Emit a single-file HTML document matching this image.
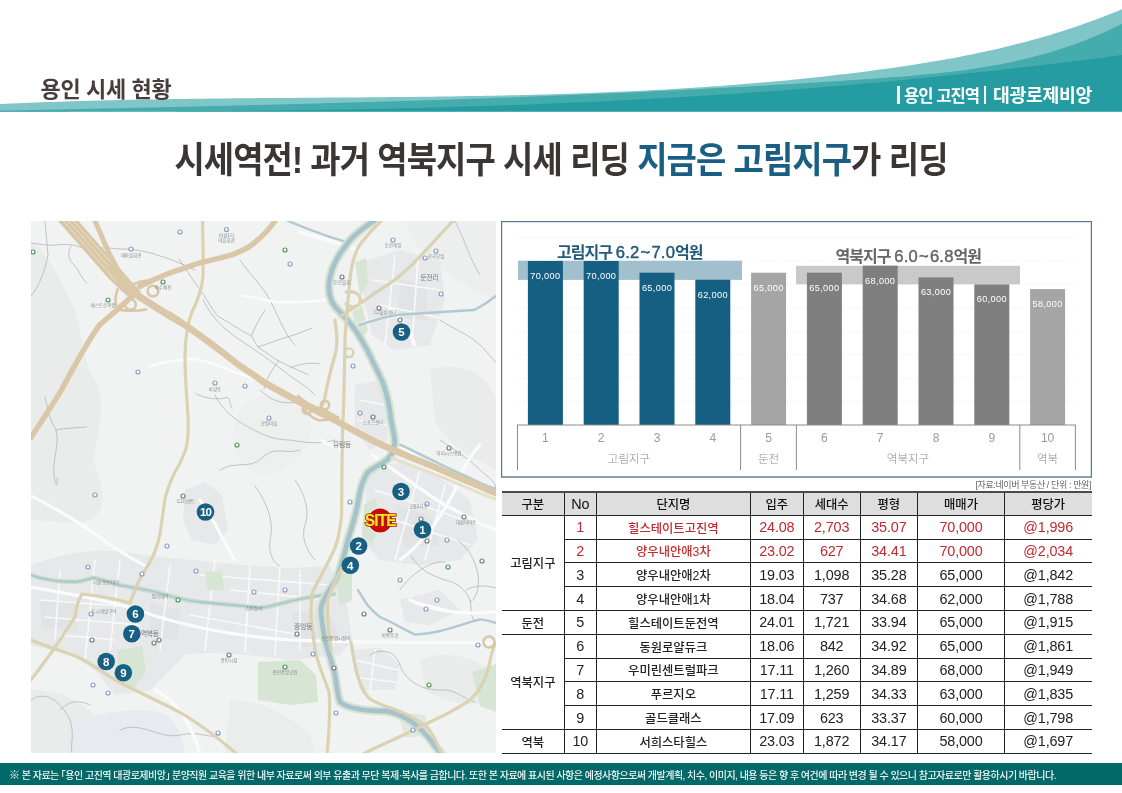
<!DOCTYPE html>
<html lang="ko">
<head>
<meta charset="utf-8">
<title>용인 시세 현황</title>
<style>
*{margin:0;padding:0;box-sizing:border-box}
html,body{width:1122px;height:793px;overflow:hidden;background:#fff}
body{position:relative;font-family:"Liberation Sans","Noto Sans CJK KR",sans-serif;color:#222}
.abs{position:absolute}
#wave{position:absolute;left:0;top:0}
#h-left{position:absolute;left:40.5px;top:75px;font-size:22px;font-weight:700;color:#483d3d;letter-spacing:-0.35px;line-height:30px;white-space:nowrap}
.hb{position:absolute;top:86px;width:2.6px;height:17.5px;background:#fff}
.ht{position:absolute;top:84px;font-size:17px;color:#fff;line-height:24px;white-space:nowrap;font-weight:700;letter-spacing:-0.5px}
#title{position:absolute;left:0;width:1122px;top:133.5px;text-align:center;font-size:36.5px;font-weight:700;color:#3b3535;letter-spacing:-1px;line-height:54px;white-space:nowrap;transform:scaleX(0.902);transform-origin:561px 0}
#title .b{color:#1a5e84}
#map{position:absolute;left:31px;top:221px;width:465px;height:532px;overflow:hidden;background:#f1f2f2}
#chart{position:absolute;left:501px;top:221px}
#chart text{font-family:"Liberation Sans","Noto Sans CJK KR",sans-serif}
#chart .bv{font-size:9.2px;letter-spacing:0.35px;fill:#fff;text-anchor:middle;font-family:"Liberation Sans","Noto Sans CJK KR",sans-serif}
#chart .ax{font-size:11.5px;fill:#8c8c8c;text-anchor:middle;font-weight:300}
#chart .an{font-size:12px;fill:#999;text-anchor:middle;font-family:"Liberation Sans","Noto Sans CJK KR",sans-serif}
#chart .t1{font-size:16px;fill:#1f5a7a;font-weight:700;letter-spacing:-0.5px}
#chart .t2{font-size:16px;fill:#666;font-weight:700;letter-spacing:-0.5px}
#chart .tn{font-family:"Liberation Sans","Noto Sans CJK KR",sans-serif;font-size:16.6px;font-weight:400;letter-spacing:0.2px;stroke:currentColor;stroke-width:0.45}
#chart .t1 .tn{stroke:#1f5a7a}
#chart .t2 .tn{stroke:#666}
#src{position:absolute;right:31px;top:478px;font-size:9px;color:#666;line-height:14px;white-space:nowrap;letter-spacing:-0.4px}
#tbl{position:absolute;left:502px;top:490.5px;width:589.5px;border-collapse:collapse;table-layout:fixed;font-family:"Liberation Sans","Noto Sans CJK KR",sans-serif;font-size:14.4px;line-height:16px}
#tbl .k{font-family:"Liberation Sans","Noto Sans CJK KR",sans-serif;font-size:12.3px;letter-spacing:0;font-weight:500;position:relative;top:1px}
#tbl td,#tbl th{height:23.8px;text-align:center;vertical-align:middle;border:1px solid #222;padding:0;white-space:nowrap;font-weight:400;letter-spacing:-0.15px}
#tbl th{background:#dedede;color:#111}
#tbl tr:first-child th{border-top:2px solid #4a4a4a}
#tbl th:first-child,#tbl td.g{border-left:none}
#tbl th:last-child,#tbl td:last-child{border-right:none}
#tbl tr.r td{color:#c12a2e}
#tbl tr.r td.g{color:#222}
#foot{position:absolute;left:0;top:763px;width:1122px;height:21.5px;background:#036868;color:#f2f7f7;font-size:10px;line-height:24.5px;padding-left:9px;white-space:nowrap;letter-spacing:-0.51px;font-weight:500}
#foot .rf{font-size:11px}
</style>
</head>
<body>
<svg id="wave" width="1122" height="112" viewBox="0 0 1122 112">
<path d="M0,111.5 L0,104.0 L6,103.7 L12,103.5 L18,103.2 L24,103.0 L30,102.7 L36,102.5 L42,102.3 L48,102.1 L54,101.9 L60,101.7 L66,101.5 L72,101.3 L78,101.1 L84,100.9 L90,100.8 L96,100.6 L102,100.5 L108,100.3 L114,100.2 L120,100.0 L126,99.9 L132,99.8 L138,99.7 L144,99.6 L150,99.5 L156,99.4 L162,99.3 L168,99.2 L174,99.1 L180,99.0 L186,98.9 L192,98.8 L198,98.7 L204,98.7 L210,98.6 L216,98.5 L222,98.5 L228,98.4 L234,98.3 L240,98.3 L246,98.2 L252,98.2 L258,98.1 L264,98.1 L270,98.0 L276,98.0 L282,97.9 L288,97.9 L294,97.9 L300,97.8 L306,97.8 L312,97.7 L318,97.7 L324,97.6 L330,97.6 L336,97.6 L342,97.5 L348,97.5 L354,97.4 L360,97.4 L366,97.3 L372,97.3 L378,97.2 L384,97.2 L390,97.1 L396,97.1 L402,97.0 L408,96.9 L414,96.9 L420,96.8 L426,96.7 L432,96.7 L438,96.6 L444,96.5 L450,96.4 L456,96.3 L462,96.2 L468,96.1 L474,96.0 L480,95.9 L486,95.8 L492,95.7 L498,95.6 L504,95.4 L510,95.3 L516,95.2 L522,95.0 L528,94.9 L534,94.7 L540,94.6 L546,94.4 L552,94.2 L558,94.0 L564,93.8 L570,93.7 L576,93.4 L582,93.2 L588,93.0 L594,92.8 L600,92.6 L606,92.3 L612,92.1 L618,91.8 L624,91.5 L630,91.3 L636,91.0 L642,90.7 L648,90.4 L654,90.1 L660,89.7 L666,89.4 L672,89.1 L678,88.7 L684,88.3 L690,88.0 L696,87.6 L702,87.2 L708,86.8 L714,86.3 L720,85.9 L726,85.5 L732,85.0 L738,84.6 L744,84.1 L750,83.6 L756,83.1 L762,82.6 L768,82.0 L774,81.5 L780,80.9 L786,80.4 L792,79.8 L798,79.2 L804,78.6 L810,78.0 L816,77.3 L822,76.7 L828,76.0 L834,75.3 L840,74.6 L846,73.9 L852,73.2 L858,72.5 L864,71.7 L870,70.9 L876,70.1 L882,69.3 L888,68.5 L894,67.7 L900,66.8 L906,65.9 L912,65.0 L918,64.1 L924,63.1 L930,62.1 L936,61.1 L942,60.1 L948,59.0 L954,57.9 L960,56.7 L966,55.6 L972,54.4 L978,53.1 L984,51.8 L990,50.5 L996,49.2 L1002,47.8 L1008,46.3 L1014,44.8 L1020,43.3 L1026,41.7 L1032,40.1 L1038,38.4 L1044,36.7 L1050,34.9 L1056,33.1 L1062,31.2 L1068,29.3 L1074,27.3 L1080,25.3 L1086,23.1 L1092,21.0 L1098,18.8 L1104,16.5 L1110,14.1 L1116,11.7 L1122,9.2 L1122,111.5 Z" fill="#80c6c8"/>
<path d="M0,111.5 L0,110.7 L6,110.6 L12,110.5 L18,110.3 L24,110.2 L30,110.1 L36,110.0 L42,109.8 L48,109.7 L54,109.6 L60,109.5 L66,109.3 L72,109.2 L78,109.1 L84,108.9 L90,108.8 L96,108.7 L102,108.6 L108,108.4 L114,108.3 L120,108.2 L126,108.0 L132,107.9 L138,107.8 L144,107.6 L150,107.5 L156,107.4 L162,107.2 L168,107.1 L174,107.0 L180,106.8 L186,106.7 L192,106.6 L198,106.4 L204,106.3 L210,106.1 L216,106.0 L222,105.9 L228,105.7 L234,105.6 L240,105.4 L246,105.3 L252,105.1 L258,105.0 L264,104.8 L270,104.7 L276,104.5 L282,104.4 L288,104.2 L294,104.1 L300,103.9 L306,103.8 L312,103.6 L318,103.4 L324,103.3 L330,103.1 L336,102.9 L342,102.8 L348,102.6 L354,102.4 L360,102.3 L366,102.1 L372,101.9 L378,101.7 L384,101.6 L390,101.4 L396,101.2 L402,101.0 L408,100.8 L414,100.7 L420,100.5 L426,100.3 L432,100.1 L438,99.9 L444,99.7 L450,99.5 L456,99.3 L462,99.1 L468,98.9 L474,98.7 L480,98.5 L486,98.3 L492,98.0 L498,97.8 L504,97.6 L510,97.4 L516,97.2 L522,96.9 L528,96.7 L534,96.5 L540,96.2 L546,96.0 L552,95.8 L558,95.5 L564,95.3 L570,95.0 L576,94.8 L582,94.5 L588,94.3 L594,94.0 L600,93.8 L606,93.5 L612,93.3 L618,93.0 L624,92.7 L630,92.4 L636,92.2 L642,91.9 L648,91.6 L654,91.3 L660,91.0 L666,90.7 L672,90.5 L678,90.2 L684,89.9 L690,89.6 L696,89.2 L702,88.9 L708,88.6 L714,88.3 L720,88.0 L726,87.7 L732,87.3 L738,87.0 L744,86.7 L750,86.3 L756,86.0 L762,85.7 L768,85.3 L774,85.0 L780,84.6 L786,84.3 L792,83.9 L798,83.5 L804,83.2 L810,82.8 L816,82.4 L822,82.0 L828,81.7 L834,81.3 L840,80.9 L846,80.5 L852,80.1 L858,79.7 L864,79.3 L870,78.9 L876,78.4 L882,78.0 L888,77.6 L894,77.1 L900,76.7 L906,76.2 L912,75.7 L918,75.2 L924,74.6 L930,74.1 L936,73.5 L942,72.8 L948,72.1 L954,71.4 L960,70.7 L966,69.9 L972,69.0 L978,68.1 L984,67.1 L990,66.1 L996,65.0 L1002,63.9 L1008,62.7 L1014,61.4 L1020,60.1 L1026,58.7 L1032,57.2 L1038,55.6 L1044,54.0 L1050,52.2 L1056,50.4 L1062,48.5 L1068,46.5 L1074,44.4 L1080,42.2 L1086,39.9 L1092,37.5 L1098,35.0 L1104,32.4 L1110,29.6 L1116,26.8 L1122,23.8 L1122,111.5 Z" fill="#45acad"/>
<path d="M0,111.5 L0,110.8 L6,110.9 L12,110.9 L18,110.9 L24,111.0 L30,111.0 L36,111.0 L42,111.0 L48,111.1 L54,111.1 L60,111.1 L66,111.1 L72,111.2 L78,111.2 L84,111.2 L90,111.2 L96,111.2 L102,111.2 L108,111.2 L114,111.2 L120,111.2 L126,111.2 L132,111.2 L138,111.2 L144,111.2 L150,111.2 L156,111.2 L162,111.2 L168,111.2 L174,111.2 L180,111.1 L186,111.1 L192,111.1 L198,111.1 L204,111.0 L210,111.0 L216,110.9 L222,110.9 L228,110.9 L234,110.8 L240,110.8 L246,110.7 L252,110.7 L258,110.6 L264,110.6 L270,110.5 L276,110.4 L282,110.4 L288,110.3 L294,110.2 L300,110.1 L306,110.0 L312,110.0 L318,109.9 L324,109.8 L330,109.7 L336,109.6 L342,109.5 L348,109.4 L354,109.3 L360,109.2 L366,109.0 L372,108.9 L378,108.8 L384,108.7 L390,108.5 L396,108.4 L402,108.3 L408,108.1 L414,108.0 L420,107.8 L426,107.7 L432,107.5 L438,107.4 L444,107.2 L450,107.0 L456,106.8 L462,106.7 L468,106.5 L474,106.3 L480,106.1 L486,105.9 L492,105.7 L498,105.5 L504,105.3 L510,105.1 L516,104.9 L522,104.7 L528,104.4 L534,104.2 L540,104.0 L546,103.7 L552,103.5 L558,103.2 L564,103.0 L570,102.7 L576,102.5 L582,102.2 L588,101.9 L594,101.7 L600,101.4 L606,101.1 L612,100.8 L618,100.5 L624,100.2 L630,99.9 L636,99.6 L642,99.3 L648,98.9 L654,98.6 L660,98.3 L666,97.9 L672,97.6 L678,97.2 L684,96.9 L690,96.5 L696,96.2 L702,95.8 L708,95.4 L714,95.0 L720,94.7 L726,94.3 L732,93.9 L738,93.5 L744,93.0 L750,92.6 L756,92.2 L762,91.8 L768,91.4 L774,90.9 L780,90.5 L786,90.0 L792,89.6 L798,89.1 L804,88.6 L810,88.2 L816,87.7 L822,87.2 L828,86.7 L834,86.2 L840,85.7 L846,85.2 L852,84.7 L858,84.1 L864,83.6 L870,83.1 L876,82.5 L882,82.0 L888,81.4 L894,80.9 L900,80.3 L906,79.7 L912,79.1 L918,78.5 L924,77.9 L930,77.4 L936,76.7 L942,76.1 L948,75.5 L954,74.9 L960,74.3 L966,73.6 L972,73.0 L978,72.3 L984,71.7 L990,71.0 L996,70.4 L1002,69.7 L1008,69.0 L1014,68.3 L1020,67.6 L1026,67.0 L1032,66.3 L1038,65.5 L1044,64.8 L1050,64.1 L1056,63.4 L1062,62.7 L1068,61.9 L1074,61.2 L1080,60.4 L1086,59.7 L1092,58.9 L1098,58.2 L1104,57.4 L1110,56.6 L1116,55.8 L1122,55.1 L1122,111.5 Z" fill="#249ca1"/>
</svg>
<div id="h-left">용인 시세 현황</div>
<div class="hb" style="left:897px"></div><div class="ht" id="ht1" style="left:904px;font-size:16.6px;letter-spacing:-1px;top:84.5px">용인 고진역</div><div class="hb" style="left:983.6px;width:2.8px"></div><div class="ht" id="ht2" style="left:993px;font-size:18.3px;top:83.5px;letter-spacing:-0.3px">대광로제비앙</div>
<div id="title">시세역전! 과거 역북지구 시세 리딩 <span class="b">지금은 고림지구</span>가 리딩</div>

<div id="map">
<svg width="465" height="532" viewBox="31 221 465 532" style="display:block">
<defs>
<clipPath id="mc"><rect x="31" y="221" width="465" height="532"/></clipPath>
</defs>
<g clip-path="url(#mc)" fill="none" stroke-linecap="round" stroke-linejoin="round">
<rect x="31" y="221" width="465" height="532" fill="#f1f2f2" stroke="none"/>
<!-- subtle forest shading -->
<g fill="#e9eceb" stroke="none">
<path d="M31,240 C45,250 55,270 70,300 C85,330 80,360 95,380 C105,400 100,430 95,450 C90,470 110,490 100,510 C90,530 60,520 31,520 Z"/>
<path d="M31,690 C60,690 80,700 100,720 C120,740 150,745 170,753 L31,753 Z"/>
<path d="M70,725 C90,712 130,708 160,712 C175,716 182,735 185,753 L65,753 Z" fill="#e8eaf0"/>
<path d="M230,700 C260,700 290,715 310,735 L315,753 L225,753 Z" fill="#ebedec"/>
<path d="M430,370 C460,360 490,375 496,400 L496,470 C480,460 450,450 435,420 Z"/>
<path d="M405,221 L496,221 L496,300 C470,290 440,270 420,250 Z" fill="#ecefee"/>
<path d="M250,400 C270,390 300,395 310,420 C315,440 300,460 280,470 C260,480 240,470 235,450 C230,430 235,410 250,400 Z" fill="#eef0ef"/>
<path d="M420,660 C440,650 470,655 490,670 L496,700 C470,710 440,700 425,690 Z"/>
</g>
<!-- urban blocks -->
<g fill="#e6e8e9" stroke="none">
<path d="M31,565 C60,555 90,548 120,552 L170,558 C200,560 240,566 290,568 L330,566 L345,590 L352,640 L340,655 L290,660 C250,655 215,650 185,655 L150,690 L115,695 L95,670 L70,655 L31,645 Z"/>
<path d="M362,262 L400,250 L440,262 L445,300 L430,345 L395,350 L372,335 L364,300 Z"/>
<path d="M368,470 L400,462 L440,478 L470,500 L478,540 L460,560 L420,565 L380,560 L362,540 Z"/>
<path d="M185,490 L205,482 L222,495 L228,530 L215,545 L192,540 L183,520 Z"/>
<path d="M355,385 L382,380 L388,440 L370,450 L355,430 Z"/>
<path d="M350,650 L380,648 L400,665 L395,690 L360,690 Z"/>
<path d="M400,600 L440,590 L460,610 L430,625 L405,622 Z"/>
</g>
<g fill="#e1e3e4" stroke="none">
<path d="M290,612 L330,612 L340,640 L300,648 Z"/>
<path d="M40,600 L75,602 L78,632 L42,628 Z"/>
<path d="M150,604 L180,610 L178,640 L150,636 Z"/>
<path d="M395,505 L430,515 L440,545 L405,548 Z"/>
<path d="M400,280 L425,285 L428,320 L398,318 Z"/>
</g>
<!-- white street grid -->
<g stroke="#f8f9f9" stroke-width="1.6">
<path d="M40,600 L120,606 M45,617 L140,625 M60,635 L115,640 M200,575 L330,585 M190,615 L300,635 M215,560 L205,650 M250,565 L245,652 M280,566 L275,655 M95,560 L85,660 M60,570 L55,640 M120,560 L110,650 M170,565 L160,650 M230,590 L330,600 M300,570 L300,650"/>
<path d="M372,280 L440,290 M380,305 L440,318 M395,255 L385,345 M418,258 L412,345 M375,490 L465,520 M380,515 L470,545 M420,470 L395,560 M445,485 L425,560 M360,400 L385,405 M358,420 L386,425"/>
<path d="M355,660 L398,670 M360,678 L395,682 M375,650 L370,690 M410,600 L455,612"/>
</g>
<!-- green areas -->
<g fill="#d7e5d4" stroke="none">
<path d="M258,662 L300,660 L316,675 L318,702 L290,705 L258,700 Z"/>
<path d="M364,505 L376,498 L380,525 L372,545 L362,535 Z"/>
<path d="M118,650 L142,646 L146,672 L132,690 L116,680 Z"/>
<path d="M472,672 L496,664 L496,712 L480,706 Z"/>
<path d="M335,575 L352,572 L352,600 L340,606 Z"/>
<path d="M205,572 L222,571 L224,590 L207,590 Z"/>
<path d="M352,312 L362,306 L368,330 L360,340 Z"/>
<path d="M355,262 L366,258 L368,284 L360,296 Z"/>
<path d="M398,712 L425,715 L430,735 L405,738 Z" fill="#dfe9e0"/>
</g>
<!-- trails / boundaries -->
<g stroke="#a7afb1" stroke-width="0.7">
<path d="M31,296 C40,285 45,270 48,255 L45,221"/>
<path d="M31,243 C40,244 48,246 56,245 C65,244 72,244 80,247 C88,250 92,250 100,248 C110,247 120,250 128,249 C138,250 150,252 160,256 C175,260 185,266 195,270"/>
<path d="M71,246 C66,255 70,262 75,266 C80,272 82,280 87,283"/>
<path d="M203,300 C212,318 225,330 240,340 C255,350 270,360 285,372 C295,380 305,385 315,395"/>
<path d="M240,260 C250,275 262,285 270,300 C280,320 285,335 295,345"/>
<path d="M45,397 C48,410 50,420 56,430 C60,445 52,460 54,475 C55,485 58,490 57,478"/>
<path d="M56,430 C65,428 75,428 86,427"/>
<path d="M196,394 C205,398 215,400 225,398 C232,396 228,404 232,408"/>
<path d="M215,395 C222,410 235,420 250,428 C265,436 275,440 290,440 C300,442 320,445 335,440"/>
<path d="M220,470 C235,460 250,470 262,458 C275,445 285,455 300,450"/>
<path d="M260,390 C270,400 282,405 298,402"/>
<path d="M440,440 C455,450 470,460 480,470 C488,478 496,480 496,490"/>
<path d="M411,556 C420,570 430,575 445,580 C455,582 465,588 470,600 C472,610 470,615 474,620"/>
<path d="M458,540 C470,550 475,560 478,575 C480,590 475,600 470,602"/>
<path d="M466,590 C475,585 485,585 496,588"/>
<path d="M370,655 C380,648 395,650 400,665 C405,680 420,690 440,690 C455,688 465,700 475,702"/>
<path d="M31,700 C45,690 60,700 70,720 C75,735 70,745 72,753"/>
<path d="M60,710 C70,700 80,700 90,705"/>
<path d="M120,730 C140,720 160,740 180,735 C200,730 210,740 220,735"/>
<path d="M255,486 C265,500 275,520 270,540 C268,555 275,565 280,566"/>
<path d="M295,480 C305,495 310,510 305,525 C300,540 310,555 315,560"/>
<path d="M455,221 C465,240 470,260 480,275"/>
<path d="M440,320 C455,330 470,335 480,345 C488,352 492,360 496,362"/>
<path d="M400,590 C410,575 430,560 445,562"/>
</g>
<!-- white roads -->
<g stroke="#fbfbfb" stroke-width="3.2">
<path d="M31,587 C80,596 120,602 152,615 C200,630 260,640 321,641 C380,643 440,642 496,643"/>
<path d="M31,496 C60,510 90,530 110,545 C125,555 135,560 146,566"/>
<path d="M300,232 C320,238 345,245 358,250"/>
<path d="M358,325 C370,320 380,318 395,316"/>
<path d="M398,443 C420,462 440,475 460,484 C475,490 488,494 496,496"/>
<path d="M372,455 C395,470 420,490 445,505 C465,515 480,525 496,530"/>
<path d="M400,560 C420,545 440,520 455,490 C462,470 470,455 480,445"/>
<path d="M410,600 C430,610 460,615 496,612"/>
<path d="M200,500 C215,520 225,545 235,560"/>
<path d="M155,690 C175,700 190,720 200,753"/>
<path d="M320,440 C330,445 338,448 342,450"/>
<path d="M390,308 C400,318 410,330 415,345"/>
</g>
<g stroke="#a7afb1" stroke-width="0.7">
<path d="M179,259 C188,272 196,285 204,295.5 C210,305 214,312 217.7,316 C228,322 240,330 251.6,336 C254,340 256,344 258,347 C265,352 272,357 278.7,361 C288,366 298,370 308,374.5"/>
<path d="M251.6,336 C255,326 260,318 265,310 M258,347 C270,343 282,338 294,335 C300,333 306,330 312,328"/>
<path d="M278.7,361 C270,372 266,380 264,389 M290,368 C300,364 310,362 320,364"/>
</g>
<g stroke="#fbfbfb" stroke-width="2.6">
<path d="M150,366 C165,362 180,359 195,359 C210,362 220,366 229,370 C240,374 250,377 258,380"/>
<path d="M242.5,295.5 C255,298 265,300 276.4,302 C295,303 315,301 330.6,300"/>
</g>
<!-- streams -->
<g stroke="#c4dccf" stroke-width="4.5">
<path d="M31,575 C45,580 60,582 77,581.7 C85,581 90,578 94,578 C105,580 112,584 121,585.5 C135,588 150,590 167,595 C180,599 190,601 200,602 C220,604 245,606 260,608 C275,606 290,600 314,596.6 C322,595 328,594 334,594"/>
</g>
<g stroke="#a9c3cb" stroke-width="1.3">
<path d="M31,575 C45,580 60,582 77,581.7 C85,581 90,578 94,578 C105,580 112,584 121,585.5 C135,588 150,590 167,595 C180,599 190,601 200,602 C220,604 245,606 260,608 C275,606 290,600 314,596.6 C322,595 328,594 334,594"/>
</g>
<g stroke="#b0cad3" stroke-width="2.4">
<path d="M359,325 C380,318 395,314 410,314 C440,312 460,311 474,310 C485,305 490,300 496,296"/>
<path d="M400,444.7 C412,450 425,457 437.4,462.7 C452,470 468,477 482.3,484 C488,486 492,488 496,489"/>
<path d="M358,590 C364,600 368,608 380,617 C392,622 405,630 415,634.6 C425,634 432,633 440,631 C455,627 470,622 480,619.4 C488,620 492,622 496,623"/>
<path d="M288,221 C305,228 325,236 346,242"/>
</g>
<!-- river -->
<g stroke="#d3e4d1" stroke-width="9">
<path d="M374,221 C366,226 361,229 352,238 C340,252 331,265 329,284 C328,296 332,305 340,312 C350,322 356,330 361,339 C366,347 370,355 373,362 C378,372 381,378 384,386 C388,398 390,410 391,420 C393,430 395,437 394.7,442.5 C394,450 392,455 388,459 C382,464 374,467 368,472 C362,480 359,495 357.7,504.7 C355,517 351,530 348,539.4 C345,552 341,567 337,578 C333,586 324,594 321,608 C321,620 323,630 325,640 C328,652 332,662 335,675 C337,688 338,697 340,702 C350,710 370,711 385,711 C400,713 415,722 428,737 C434,745 438,750 442,755"/>
</g>
<g stroke="#a7c2cc" stroke-width="4.8">
<path d="M374,221 C366,226 361,229 352,238 C340,252 331,265 329,284 C328,296 332,305 340,312 C350,322 356,330 361,339 C366,347 370,355 373,362 C378,372 381,378 384,386 C388,398 390,410 391,420 C393,430 395,437 394.7,442.5 C394,450 392,455 388,459 C382,464 374,467 368,472 C362,480 359,495 357.7,504.7 C355,517 351,530 348,539.4 C345,552 341,567 337,578 C333,586 324,594 321,608 C321,620 323,630 325,640 C328,652 332,662 335,675 C337,688 338,697 340,702 C350,710 370,711 385,711 C400,713 415,722 428,737 C434,745 438,750 442,755"/>
</g>
<!-- light tan roads -->
<g stroke="#dbd2b3" stroke-width="3.2">
<path d="M202.5,221 C203,240 203.5,258 203,277 C202,288 198,300 192,312 C188,322 185,340 185,360 C185,375 186,385 187.6,410 C188.5,420 188.3,430 188,435 C187,445 186,450 184.5,452.7 C181,462 178,467 175.5,471 C170,482 167,490 164.8,500 C163,512 162,522 160,534 C157,550 152,560 145,570 C140,578 137,585 136,588 C133,595 131,600 130,603"/>
<path d="M130,603 C120,600 100,596 82,594 C78,600 76,608 75.5,616 C70,625 65,632 60,640 C50,655 40,668 31,680"/>
<path d="M381,221 C372,230 362,240 358,248 C353,258 351,268 350,280 C348,300 346,320 345,340 C344.5,370 344,400 343,420 C342,440 342,470 341.6,515 C340,530 337,545 333,552 C325,570 318,580 312.6,592 C311,600 311,610 311,618 C312,630 314,640 315,650 C318,665 325,680 329,692 C331,710 329,730 327,755"/>
<path d="M346,560 C338,575 330,590 328,600 C326,620 330,640 331,650"/>
<path d="M335,320 C337,335 338,345 335,355 C332,365 328,380 324,402 C321,408 318,410 316,411 C310,410 305,406 300,402"/>
<path d="M341,316 C360,305 375,292 389,284 C410,270 430,245 453,221"/>
<path d="M351,642 C353,655 355,665 356,670 C360,685 365,695 370,699 C380,705 388,707 394,709 C405,713 418,720 428,728 C434,735 438,745 442,755"/>
<path d="M361,755 C380,745 405,735 428,723 C445,715 460,708 471,699 C482,688 488,675 490,661 C492,652 494,646 495,644"/>
<path d="M31,640 C45,646 62,651 78,657 C88,662 97,668 106,674 C114,680 122,684 131,688 C150,698 170,706 186,716 C205,728 222,741 238,755"/>
<path d="M346,292 C356,290 362,296 360,303 C357,308 350,308 346,304"/>
<path d="M392,458 C410,465 425,471 437,475 C452,481 468,488 482,494 C488,496 492,498 496,499" stroke="#e6e0c9"/>
</g>
<g stroke="#dbd2b3" stroke-width="2.4">
<circle cx="349" cy="352.8" r="4.4"/>
</g>
<!-- main tan highways -->
<path d="M58,221 L78.5,221 L131,281 L141,292 L133,299 L126,295 L109,279 Z" fill="#d9c7a8" stroke="none"/>
<g stroke="#ede4d2" stroke-width="0.8" stroke-linecap="butt">
<path d="M63.5,221 L116,281 M68.5,221 L121,280 M73.5,221 L126,279"/>
</g>
<g stroke="#d9c7a8" stroke-width="5">
<path d="M95,221 C100,232 105,245 110,255 L118,270"/>
</g>
<g stroke="#d9c7a8" stroke-width="7">
<path d="M112,268 L134,293 C150,304 165,313 180,322"/>
</g>
<g stroke="#d9c7a8" stroke-width="6.6">
<path d="M170,315 C190,328 210,342 240,366 C250,372 258,378 265,383 C290,397 310,408 330,417.6 C350,428 372,442 397,451.4 C412,458 425,463 437.4,468.3 C452,475 468,481 482.3,487.4 C488,490 492,492 496,493"/>
</g>
<g stroke="#d9c7a8" stroke-width="5.4">
<path d="M139.7,286.5 C155,279 168,273 180,269.7 C190,266 196,264 202.5,262.2 C215,259 225,257 232.4,254.7 C242,251 250,247 255,242.2 C263,236 270,228 275,221"/>
<path d="M131,297 C120,308 110,316 100,324.5 C88,340 75,365 62,389 C55,401 50,408 45,416 C40,424 35,431 31,437.6"/>
</g>
<g stroke="#d9c7a8" stroke-width="2.6">
<circle cx="153" cy="291" r="5.3"/>
<circle cx="130.5" cy="304.6" r="5.3"/>
<path d="M117.7,289 C115,296 115,304 117.7,309.4 C125,311 138,311 146,309.4"/>
<path d="M134,284 C140,281 146,280 152,281"/>
<path d="M300,402 C305,412 312,418 318,420 C325,421 332,419 338,417"/>
<circle cx="489" cy="642" r="5.5"/>
<circle cx="307" cy="409.5" r="4.2"/>
<circle cx="325" cy="405" r="4.2"/>
<path d="M298,396 C305,402 312,406 318,408 C324,410 330,412 338,418"/>
</g>
<!-- POI icons -->
<g fill="#fff" stroke="#8aa0c8" stroke-width="1.2">
<circle cx="226.5" cy="229.5" r="2"/><circle cx="131" cy="249" r="2"/><circle cx="290" cy="264" r="2"/>
<circle cx="393" cy="240" r="2"/><circle cx="425" cy="258" r="2"/><circle cx="436" cy="251" r="2"/>
<circle cx="441" cy="294" r="2"/><circle cx="138" cy="372" r="2"/><circle cx="180" cy="232" r="2"/>
<circle cx="215" cy="383" r="2"/><circle cx="269" cy="418" r="2"/><circle cx="353" cy="366" r="2"/>
<circle cx="93" cy="685" r="2"/><circle cx="142" cy="574" r="2"/><circle cx="88" cy="567" r="2"/>
<circle cx="196" cy="571" r="2"/><circle cx="254" cy="592" r="2"/><circle cx="285" cy="590" r="2"/>
<circle cx="313" cy="654" r="2"/><circle cx="336" cy="713" r="2"/><circle cx="95" cy="495" r="2"/>
<circle cx="478" cy="645" r="2"/><circle cx="437" cy="600" r="2"/><circle cx="400" cy="580" r="2"/>
<circle cx="447" cy="540" r="2"/><circle cx="427" cy="504" r="2"/><circle cx="350" cy="502" r="2"/>
<circle cx="245" cy="386" r="2"/><circle cx="218" cy="733" r="2"/><circle cx="91" cy="614" r="2"/>
<circle cx="413" cy="730" r="2"/><circle cx="360" cy="413" r="2"/><circle cx="426" cy="609" r="2"/>
<circle cx="167" cy="546" r="2"/><circle cx="108" cy="693" r="2"/>
</g>
<g fill="#fff" stroke="#7d7d7d" stroke-width="1.2">
<circle cx="342" cy="277" r="2"/><circle cx="379" cy="308" r="2"/><circle cx="373" cy="417" r="2"/>
<circle cx="449" cy="448" r="2"/><circle cx="421" cy="519" r="2"/><circle cx="427" cy="541" r="2"/>
<circle cx="464" cy="517" r="2"/><circle cx="183" cy="496" r="2"/><circle cx="159" cy="640" r="2"/>
<circle cx="297" cy="634" r="2"/><circle cx="229" cy="655" r="2"/><circle cx="364" cy="614" r="2"/>
<circle cx="390" cy="630" r="2"/><circle cx="334" cy="668" r="2"/><circle cx="482" cy="561" r="2"/>
<circle cx="92" cy="640" r="2"/><circle cx="154" cy="643" r="2"/><circle cx="400" cy="320" r="2"/>
</g>
<g fill="#fff" stroke="#4f9a5a" stroke-width="1.2">
<circle cx="285" cy="250" r="2"/><circle cx="108" cy="300" r="2"/><circle cx="163" cy="282" r="2"/>
<circle cx="237" cy="445" r="2"/><circle cx="384" cy="467" r="2"/><circle cx="448" cy="567" r="2"/>
<circle cx="285" cy="667" r="2"/><circle cx="429" cy="685" r="2"/><circle cx="178" cy="600" r="2"/>
<circle cx="33" cy="252" r="2"/>
</g>
<!-- labels -->
<g font-family="'Liberation Sans','Noto Sans CJK KR',sans-serif" font-size="4.5" fill="#8b8b8b" text-anchor="middle" stroke="none">
<text x="341.7" y="447" font-size="7.2" letter-spacing="-0.6" fill="#7f7f7f">유림동</text>
<text x="429.3" y="279.6" font-size="7.2" letter-spacing="-0.6" fill="#7f7f7f">둔전리</text>
<text x="303" y="629" font-size="7.2" letter-spacing="-0.6" fill="#7f7f7f">중앙동</text>
<text x="149.5" y="635.7" font-size="7.2" letter-spacing="-0.6" fill="#7f7f7f">역북동</text>
<text x="226.5" y="237">마성1리</text>
<text x="226.5" y="242">마을회관</text>
<text x="131" y="257">새마을회관</text>
<text x="103" y="307">에스트수목원</text>
<text x="163" y="289">마수체천</text>
<text x="393" y="247">둔전제일</text>
<text x="436" y="258">한국모빌</text>
<text x="385" y="314">CJ물류센터</text>
<text x="342" y="284">둔전물류</text>
<text x="336" y="640">용인중앙시장역</text>
<text x="106" y="584">시청·용인대역</text>
<text x="160" y="598">명지대역</text>
<text x="254" y="610">김량장역</text>
<text x="285" y="674">용인중앙공원</text>
<text x="418" y="508">고림2지구</text>
<text x="186" y="503">CJ더센트</text>
<text x="104" y="613">도시개발구역</text>
<text x="466" y="524">대성아파트</text>
<text x="215" y="391">마상동</text>
<text x="269" y="425">공원마을</text>
<text x="373" y="424">스포츠센터</text>
<text x="449" y="455">아이시스병원</text>
<text x="229" y="662">용인시청</text>
<text x="390" y="637">마평주공</text>
</g>
</g>
<!-- markers -->
<g font-family="'Liberation Sans','Noto Sans CJK KR',sans-serif" font-weight="700" font-size="11.5" fill="#fff" text-anchor="middle">
<g><circle cx="401.5" cy="332" r="8.8" fill="#185f84"/><text x="401.5" y="336.2">5</text></g>
<g><circle cx="401" cy="491.5" r="8.8" fill="#185f84"/><text x="401" y="495.7">3</text></g>
<g><circle cx="422.5" cy="529.6" r="8.8" fill="#185f84"/><text x="422.5" y="533.8">1</text></g>
<g><circle cx="358.6" cy="546" r="8.8" fill="#185f84"/><text x="358.6" y="550.2">2</text></g>
<g><circle cx="350.3" cy="565.3" r="8.8" fill="#185f84"/><text x="350.3" y="569.5">4</text></g>
<g><circle cx="205.5" cy="512" r="8.8" fill="#185f84"/><text x="205.5" y="516.2" letter-spacing="-0.8">10</text></g>
<g><circle cx="135.4" cy="614" r="8.8" fill="#185f84"/><text x="135.4" y="618.2">6</text></g>
<g><circle cx="131.8" cy="633.8" r="8.8" fill="#185f84"/><text x="131.8" y="638">7</text></g>
<g><circle cx="106.2" cy="661.5" r="8.8" fill="#185f84"/><text x="106.2" y="665.7">8</text></g>
<g><circle cx="123.4" cy="672.8" r="8.8" fill="#185f84"/><text x="123.4" y="677">9</text></g>
</g>
<g>
<circle cx="380.1" cy="520.6" r="12.8" fill="#fff" opacity="0.8"/>
<circle cx="380.1" cy="520.6" r="12" fill="#c80a0a"/>
<text x="380.3" y="526.2" font-family="'Liberation Sans',sans-serif" font-weight="700" font-size="15.6" fill="#ffe619" stroke="#a3200c" stroke-width="1.6" paint-order="stroke" text-anchor="middle" letter-spacing="-0.9">SITE</text>
</g>
</svg>

</div>

<svg id="chart" width="591" height="257" viewBox="501 221 591 257">
<rect x="501.5" y="221.5" width="590" height="255.5" fill="#fff" stroke="#55788a" stroke-width="1.4"/>
<line x1="517" y1="401.6" x2="1075" y2="401.6" stroke="#ececec" stroke-width="0.8" stroke-dasharray="1.5,1.5"/>
<line x1="517" y1="378.1" x2="1075" y2="378.1" stroke="#ececec" stroke-width="0.8" stroke-dasharray="1.5,1.5"/>
<line x1="517" y1="354.7" x2="1075" y2="354.7" stroke="#ececec" stroke-width="0.8" stroke-dasharray="1.5,1.5"/>
<line x1="517" y1="331.3" x2="1075" y2="331.3" stroke="#ececec" stroke-width="0.8" stroke-dasharray="1.5,1.5"/>
<line x1="517" y1="307.9" x2="1075" y2="307.9" stroke="#ececec" stroke-width="0.8" stroke-dasharray="1.5,1.5"/>
<line x1="517" y1="284.4" x2="1075" y2="284.4" stroke="#ececec" stroke-width="0.8" stroke-dasharray="1.5,1.5"/>
<line x1="517" y1="261.0" x2="1075" y2="261.0" stroke="#ececec" stroke-width="0.8" stroke-dasharray="1.5,1.5"/>
<line x1="517" y1="237.6" x2="1075" y2="237.6" stroke="#ececec" stroke-width="0.8" stroke-dasharray="1.5,1.5"/>
<rect x="518" y="260.7" width="224" height="19.2" fill="#a2bfcd"/>
<rect x="796" y="265.8" width="224" height="18.5" fill="#c9c9c9"/>
<rect x="527.9" y="261.0" width="35" height="164.0" fill="#156082"/>
<text x="545.4" y="279.0" class="bv">70,000</text>
<text x="545.4" y="442" class="an">1</text>
<rect x="583.7" y="261.0" width="35" height="164.0" fill="#156082"/>
<text x="601.2" y="279.0" class="bv">70,000</text>
<text x="601.2" y="442" class="an">2</text>
<rect x="639.5" y="272.7" width="35" height="152.3" fill="#156082"/>
<text x="657.0" y="290.7" class="bv">65,000</text>
<text x="657.0" y="442" class="an">3</text>
<rect x="695.3" y="279.7" width="35" height="145.3" fill="#156082"/>
<text x="712.8" y="297.7" class="bv">62,000</text>
<text x="712.8" y="442" class="an">4</text>
<rect x="751.1" y="272.7" width="35" height="152.3" fill="#a5a5a5"/>
<text x="768.6" y="290.7" class="bv">65,000</text>
<text x="768.6" y="442" class="an">5</text>
<rect x="806.9" y="272.7" width="35" height="152.3" fill="#7f7f7f"/>
<text x="824.4" y="290.7" class="bv">65,000</text>
<text x="824.4" y="442" class="an">6</text>
<rect x="862.7" y="265.7" width="35" height="159.3" fill="#7f7f7f"/>
<text x="880.2" y="283.7" class="bv">68,000</text>
<text x="880.2" y="442" class="an">7</text>
<rect x="918.5" y="277.4" width="35" height="147.6" fill="#7f7f7f"/>
<text x="936.0" y="295.4" class="bv">63,000</text>
<text x="936.0" y="442" class="an">8</text>
<rect x="974.3" y="284.4" width="35" height="140.6" fill="#7f7f7f"/>
<text x="991.8" y="302.4" class="bv">60,000</text>
<text x="991.8" y="442" class="an">9</text>
<rect x="1030.1" y="289.1" width="35" height="135.9" fill="#a5a5a5"/>
<text x="1047.6" y="307.1" class="bv">58,000</text>
<text x="1047.6" y="442" class="an">10</text>
<line x1="517" y1="425" x2="1075.5" y2="425" stroke="#8c8c8c" stroke-width="1"/>
<line x1="517.5" y1="425" x2="517.5" y2="470" stroke="#8c8c8c" stroke-width="1"/>
<line x1="740.6" y1="425" x2="740.6" y2="470" stroke="#8c8c8c" stroke-width="1"/>
<line x1="796.4" y1="425" x2="796.4" y2="470" stroke="#8c8c8c" stroke-width="1"/>
<line x1="1019.8" y1="425" x2="1019.8" y2="470" stroke="#8c8c8c" stroke-width="1"/>
<line x1="1075.4" y1="425" x2="1075.4" y2="470" stroke="#8c8c8c" stroke-width="1"/>
<text x="629" y="463" class="ax">고림지구</text>
<text x="768.5" y="463" class="ax">둔전</text>
<text x="908" y="463" class="ax">역북지구</text>
<text x="1047.5" y="463" class="ax">역북</text>
<text x="557" y="257.5" class="t1"><tspan letter-spacing="-1">고림지구</tspan> <tspan class="tn">6.2</tspan><tspan class="tn" dx="1">~</tspan><tspan class="tn" dx="1">7.0</tspan><tspan letter-spacing="-1">억원</tspan></text>
<text x="835.5" y="261.8" class="t2"><tspan letter-spacing="-1">역북지구</tspan> <tspan class="tn">6.0</tspan><tspan class="tn" dx="1">~</tspan><tspan class="tn" dx="1">6.8</tspan><tspan letter-spacing="-1">억원</tspan></text>
</svg>
<div id="src">[자료:네이버 부동산 / 단위 : 만원]</div>

<table id="tbl">
<colgroup><col style="width:62.2px"><col style="width:32.1px"><col style="width:154.2px"><col style="width:52.7px"><col style="width:57px"><col style="width:57.4px"><col style="width:86.9px"><col></colgroup>
<tr><th><span class="k">구분</span></th><th>No</th><th><span class="k">단지명</span></th><th><span class="k">입주</span></th><th><span class="k">세대수</span></th><th><span class="k">평형</span></th><th><span class="k">매매가</span></th><th><span class="k">평당가</span></th></tr>
<tr class="r"><td rowspan="4" class="g"><span class="k">고림지구</span></td><td>1</td><td><span class="k">힐스테이트고진역</span></td><td>24.08</td><td>2,703</td><td>35.07</td><td>70,000</td><td>@1,996</td></tr>
<tr class="r"><td>2</td><td><span class="k">양우내안애3차</span></td><td>23.02</td><td>627</td><td>34.41</td><td>70,000</td><td>@2,034</td></tr>
<tr><td>3</td><td><span class="k">양우내안애2차</span></td><td>19.03</td><td>1,098</td><td>35.28</td><td>65,000</td><td>@1,842</td></tr>
<tr><td>4</td><td><span class="k">양우내안애1차</span></td><td>18.04</td><td>737</td><td>34.68</td><td>62,000</td><td>@1,788</td></tr>
<tr><td rowspan="1" class="g"><span class="k">둔전</span></td><td>5</td><td><span class="k">힐스테이트둔전역</span></td><td>24.01</td><td>1,721</td><td>33.94</td><td>65,000</td><td>@1,915</td></tr>
<tr><td rowspan="4" class="g"><span class="k">역북지구</span></td><td>6</td><td><span class="k">동원로얄듀크</span></td><td>18.06</td><td>842</td><td>34.92</td><td>65,000</td><td>@1,861</td></tr>
<tr><td>7</td><td><span class="k">우미린센트럴파크</span></td><td>17.11</td><td>1,260</td><td>34.89</td><td>68,000</td><td>@1,949</td></tr>
<tr><td>8</td><td><span class="k">푸르지오</span></td><td>17.11</td><td>1,259</td><td>34.33</td><td>63,000</td><td>@1,835</td></tr>
<tr><td>9</td><td><span class="k">골드클래스</span></td><td>17.09</td><td>623</td><td>33.37</td><td>60,000</td><td>@1,798</td></tr>
<tr><td rowspan="1" class="g"><span class="k">역북</span></td><td>10</td><td><span class="k">서희스타힐스</span></td><td>23.03</td><td>1,872</td><td>34.17</td><td>58,000</td><td>@1,697</td></tr>
</table>

<div id="foot"><span class="rf">※</span> 본 자료는<span style="margin-left:-3px">「</span>용인 고진역 대광로제비앙<span style="margin-right:-3px">」</span>분양직원 교육을 위한 내부 자료로써 외부 유출과 무단 복제·복사를 금합니다. 또한 본 자료에 표시된 사항은 예정사항으로써 개발계획, 치수, 이미지, 내용 등은 향 후 여건에 따라 변경 될 수 있으니 참고자료로만 활용하시기 바랍니다.</div>
</body>
</html>
